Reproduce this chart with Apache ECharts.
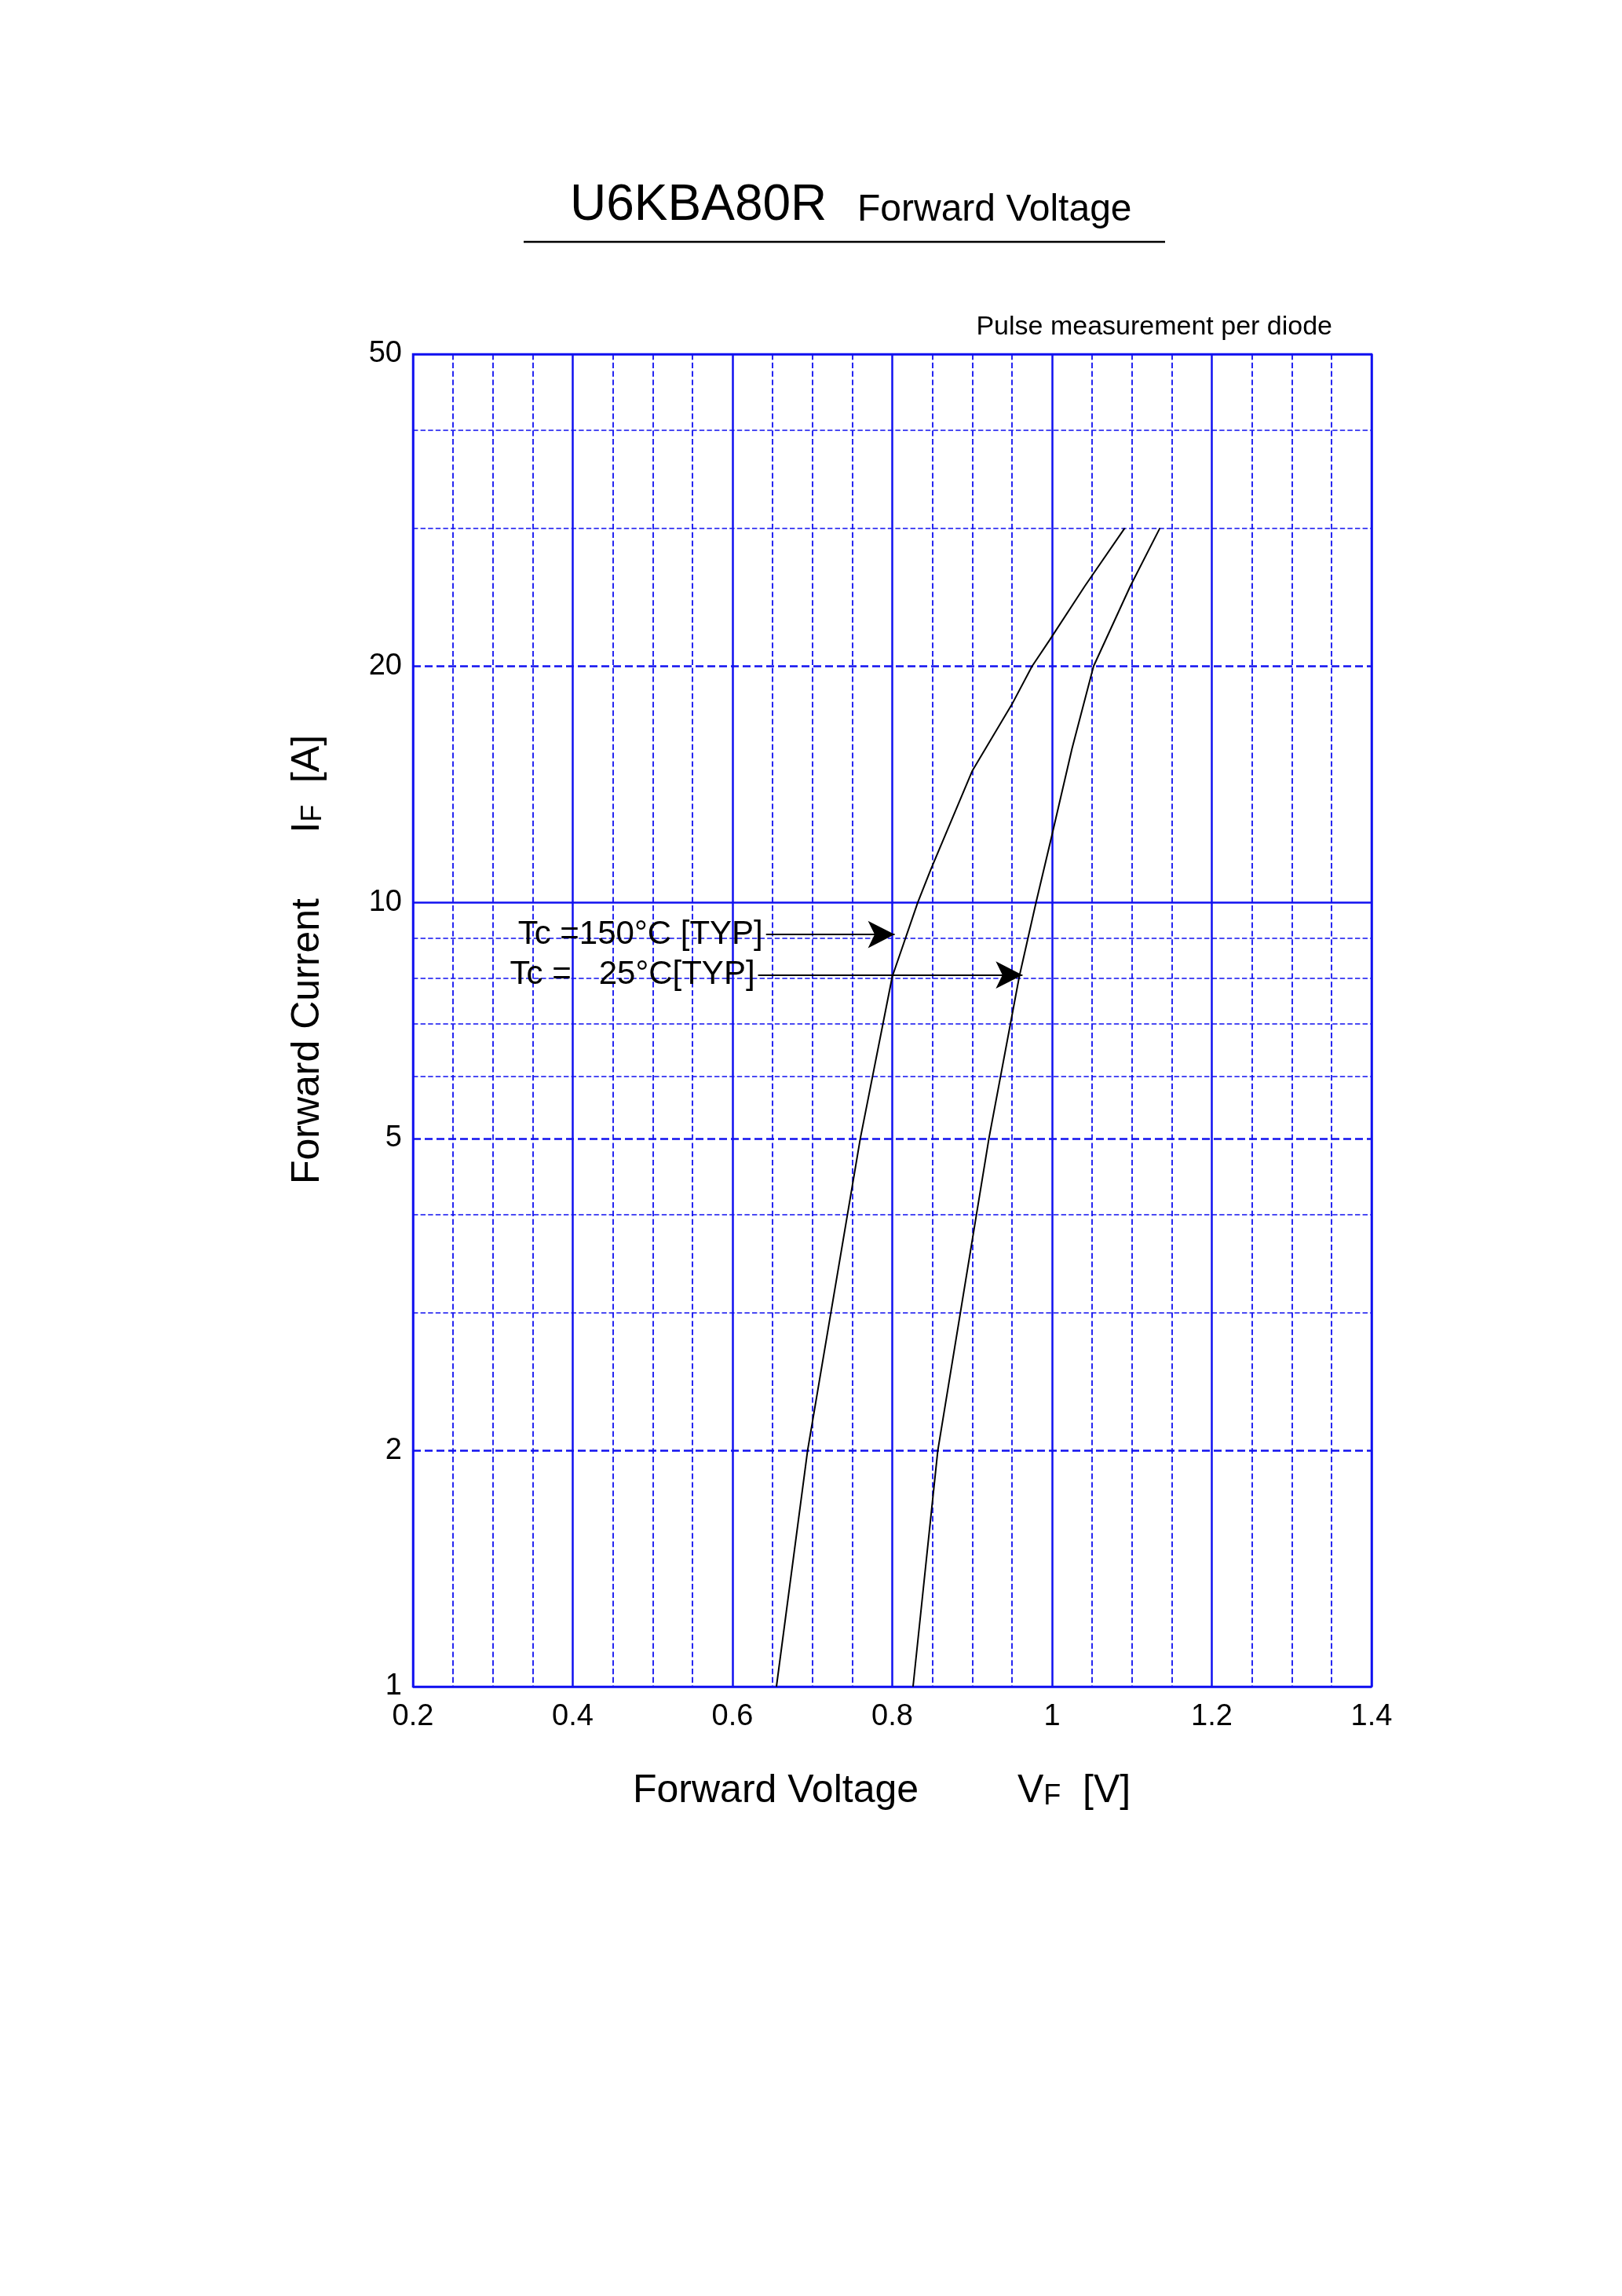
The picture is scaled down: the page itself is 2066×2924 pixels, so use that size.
<!DOCTYPE html>
<html><head><meta charset="utf-8">
<script src="https://cdn.jsdelivr.net/npm/echarts@6/dist/echarts.min.js"></script>
<style>html,body{margin:0;padding:0;background:#fff}#c{width:2066px;height:2924px}</style>
</head><body><div id="c"></div>
<script>
// Tc = 150°C curve [VF (V), IF (A)]
const vf150 = [0.655, 0.694, 0.760, 0.800, 0.832, 0.848, 0.900, 0.950, 0.975, 0.997, 1.041, 1.091];
const if150 = [1, 2, 5, 8.04, 10, 11.0, 14.7, 17.9, 20, 21.6, 25.3, 30];
// Tc = 25°C curve
const vf25 = [0.826, 0.857, 0.921, 0.959, 0.980, 0.999, 1.025, 1.052, 1.098, 1.135];
const if25 = [1, 2, 5, 8.04, 10, 12.07, 15.7, 20, 25.3, 30];
// y grid lines and tick labels
const yGrid = [1, 2, 3, 4, 5, 6, 7, 8, 9, 10, 20, 30, 40, 50];
const yLabeled = [1, 2, 5, 10, 20, 50];
const ySolid = [1, 10, 50];
const yMajorDash = [2, 5, 20];
// annotation arrows
const annLabels = ['Tc =150°C [TYP]', 'Tc =   25°C[TYP]'];
const annX0 = [0.642, 0.632];
const annX1 = [0.803, 0.963];
const annY = [9.1, 8.08];

const BLUE = '#1010f0';
const FONT = 'Liberation Sans';
const chart = echarts.init(document.getElementById('c'));

const gridLines = yGrid.map(v => ({
  yAxis: v,
  lineStyle: {
    color: BLUE,
    type: ySolid.includes(v) ? 'solid' : 'dashed',
    width: (ySolid.includes(v) || yMajorDash.includes(v)) ? 2.5 : 1.6
  },
  label: yLabeled.includes(v) ? {show: true, position: 'start', formatter: String(v), color: '#000', fontSize: 38, fontFamily: FONT, distance: 14} : {show: false}
}));

const arrows = annLabels.map((t, i) => [
  {coord: [annX0[i], annY[i]], label: {show: true, position: 'start', formatter: t, color: '#000', fontSize: 42, fontFamily: FONT, distance: 4}, lineStyle: {color: '#000', width: 2, type: 'solid'}},
  {coord: [annX1[i], annY[i]]}
]);

chart.setOption({
  animation: false,
  grid: {left: 526, top: 451, width: 1221, height: 1697, show: true, borderColor: BLUE, borderWidth: 2.5},
  xAxis: {
    type: 'value', min: 0.2, max: 1.4, interval: 0.2,
    axisLine: {show: false}, axisTick: {show: false},
    axisLabel: {color: '#000', fontSize: 38, fontFamily: FONT, margin: 20, formatter: v => String(+v.toFixed(1))},
    splitLine: {show: true, lineStyle: {color: BLUE, width: 2.5, type: 'solid'}},
    minorTick: {show: false, splitNumber: 4},
    minorSplitLine: {show: true, lineStyle: {color: BLUE, width: 1.8, type: 'dashed'}}
  },
  yAxis: {
    type: 'log', logBase: 10, min: 1, max: 50,
    axisLine: {show: false}, axisTick: {show: false}, axisLabel: {show: false}, splitLine: {show: false}
  },
  series: [
    {
      type: 'line', data: vf150.map((v, i) => [v, if150[i]]), smooth: false, showSymbol: false,
      lineStyle: {color: '#000', width: 2}, z: 5,
      markLine: {silent: true, symbol: 'none', animation: false, data: gridLines, z: 1}
    },
    {
      type: 'line', data: vf25.map((v, i) => [v, if25[i]]), smooth: false, showSymbol: false,
      lineStyle: {color: '#000', width: 2}, z: 5,
      markLine: {silent: true, symbol: ['none', 'arrow'], symbolSize: [26, 34], animation: false, data: arrows}
    }
  ],
  graphic: [
    {type: 'text', left: 726, top: 230, style: {text: 'U6KBA80R', font: '64px "Liberation Sans"', fill: '#000'}},
    {type: 'text', left: 1092, top: 244, style: {text: 'Forward Voltage', font: '48px "Liberation Sans"', fill: '#000'}},
    {type: 'line', shape: {x1: 667, y1: 308, x2: 1484, y2: 308}, style: {stroke: '#000', lineWidth: 2.5}},
    {type: 'text', right: 2066 - 1697, top: 400, style: {text: 'Pulse measurement per diode', font: '34px "Liberation Sans"', fill: '#000'}},
    {type: 'text', left: 806, top: 2256, style: {text: 'Forward Voltage', font: '50px "Liberation Sans"', fill: '#000'}},
    {type: 'text', left: 1296, top: 2256, style: {
      text: '{a|V}{s|F}{a|  [V]}',
      rich: {a: {fontSize: 50, fontFamily: FONT, fill: '#000'}, s: {fontSize: 36, fontFamily: FONT, fill: '#000', padding: [14, 0, 0, 0]}}
    }},
    {type: 'text', x: 392, y: 1222, rotation: Math.PI / 2, style: {
      text: '{a|Forward Current      I}{s|F}{a|  [A]}', align: 'center', verticalAlign: 'middle',
      rich: {a: {fontSize: 50, fontFamily: FONT, fill: '#000'}, s: {fontSize: 36, fontFamily: FONT, fill: '#000', padding: [14, 0, 0, 0]}}
    }}
  ]
});
</script></body></html>
